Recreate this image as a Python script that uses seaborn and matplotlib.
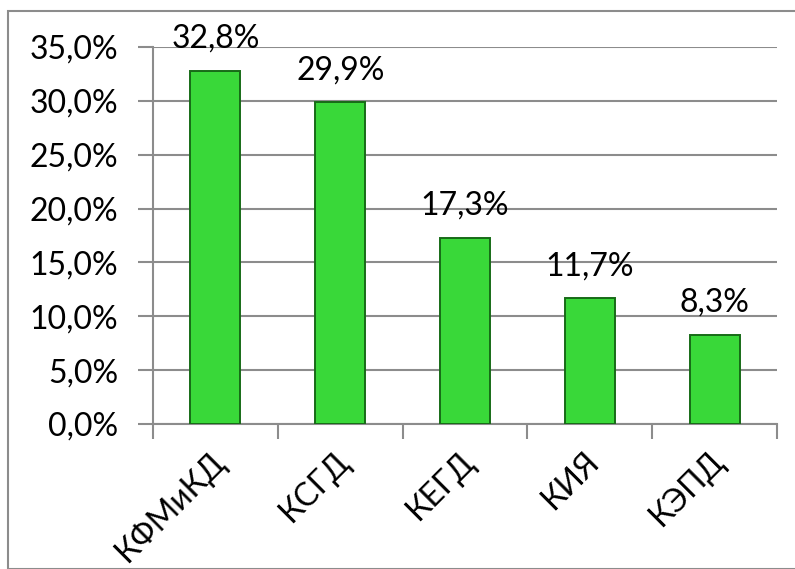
import matplotlib
matplotlib.use("Agg")
import matplotlib.pyplot as plt
import matplotlib.transforms as mtransforms
import seaborn as sns
import pandas as pd
import numpy as np
from matplotlib.patches import Rectangle
from matplotlib.ticker import FixedLocator

categories = ["КФМиКД", "КСГД", "КЕГД", "КИЯ", "КЭПД"]
values = [32.8, 29.9, 17.3, 11.7, 8.3]
value_labels = ["32,8%", "29,9%", "17,3%", "11,7%", "8,3%"]
y_ticks = [0, 5, 10, 15, 20, 25, 30, 35]
y_tick_labels = ["0,0%", "5,0%", "10,0%", "15,0%", "20,0%", "25,0%", "30,0%", "35,0%"]

sns.set_theme(style="white")
plt.rcParams['font.family'] = ['Lato', 'DejaVu Sans']

W, H = 795, 569
fig = plt.figure(figsize=(W / 100, H / 100), dpi=100)
ax = fig.add_axes([153 / W, 1 - 424 / H, (777 - 153) / W, (424 - 47) / H])

df = pd.DataFrame({"cat": categories, "val": values})
sns.barplot(data=df, x="cat", y="val", color="#39D839", width=0.4,
            edgecolor="#176B17", linewidth=1.4, ax=ax, saturation=1, zorder=3)

ax.set_ylim(0, 35)
ax.set_xlim(-0.5, len(categories) - 0.5)
ax.set_yticks(y_ticks)
ax.set_yticklabels(y_tick_labels, fontsize=23)
ax.yaxis.grid(True, color="#8C8C8C", linewidth=1.5, zorder=0)
ax.set_axisbelow(True)

ax.set_xticks(range(len(categories)))
ax.set_xticklabels(categories, fontsize=23, rotation=45, ha="right",
                   rotation_mode="anchor")
ax.tick_params(axis="x", which="major", length=0, pad=16)
ax.xaxis.set_minor_locator(FixedLocator(np.arange(-0.5, len(categories), 1)))
ax.tick_params(axis="x", which="minor", length=11, width=1.5, color="#8C8C8C",
               direction="out", bottom=True)
ax.tick_params(axis="y", length=11, width=1.5, color="#8C8C8C", direction="out",
               left=True, pad=14)
shift = mtransforms.ScaledTranslation(-6 / 100, 0, fig.dpi_scale_trans)
for lab in ax.get_xticklabels():
    lab.set_color("black")
    lab.set_transform(lab.get_transform() + shift)
for lab in ax.get_yticklabels():
    lab.set_color("black")

ax.set_xlabel("")
ax.set_ylabel("")
for s in ["top", "right"]:
    ax.spines[s].set_visible(False)
for s in ["left", "bottom"]:
    ax.spines[s].set_color("#8C8C8C")
    ax.spines[s].set_linewidth(1.5)

for i, (v, lab) in enumerate(zip(values, value_labels)):
    ax.annotate(lab, (i, v), xytext=(0, 12), textcoords="offset points",
                ha="center", va="bottom", fontsize=23, color="black",
                annotation_clip=False)

border = Rectangle((8 / W, 0), 1 - 8 / W + 0.01, 1 - 11 / H,
                   transform=fig.transFigure, fill=False,
                   edgecolor="#8C8C8C", linewidth=1.5)
fig.patches.append(border)

fig.savefig("out.png", dpi=100)
